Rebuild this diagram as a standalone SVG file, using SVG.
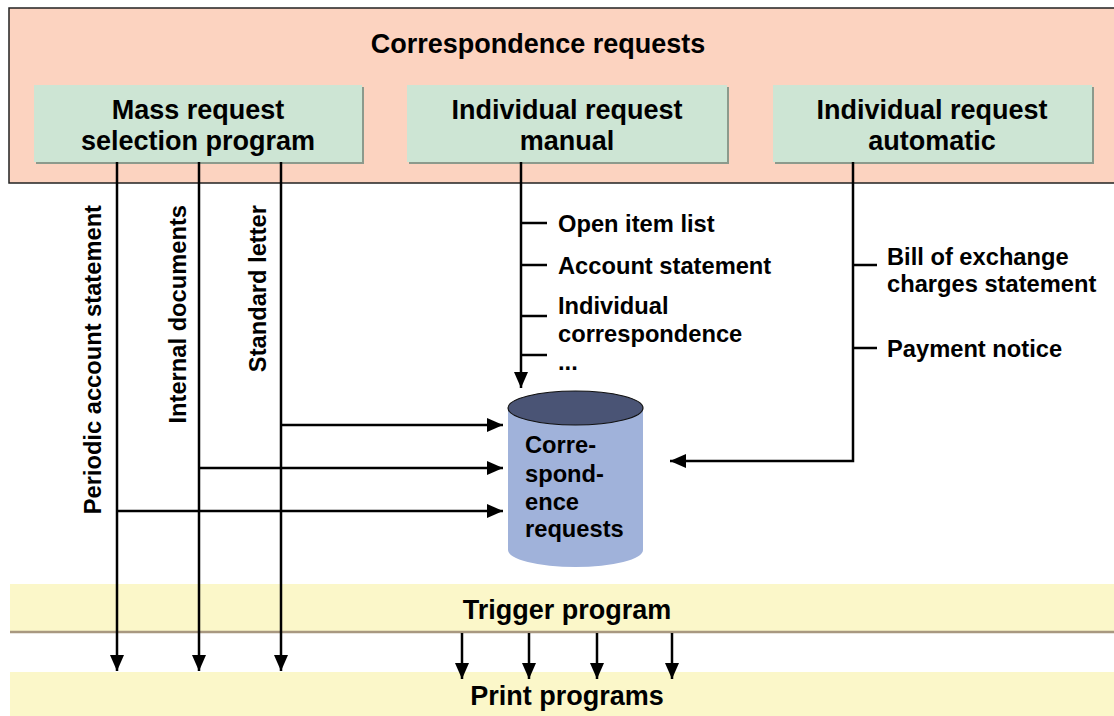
<svg xmlns="http://www.w3.org/2000/svg" width="1114" height="716" viewBox="0 0 1114 716">
<style>
text{font-family:"Liberation Sans",Arial,Helvetica,sans-serif;font-weight:bold;fill:#000}
.big{font-size:27px;text-anchor:middle}
.sm{font-size:23.7px}
.box{fill:#cde5d4}
.shadow{fill:#8c9a8c}
.band{fill:#fbf7c9}
.ln{stroke:#000;stroke-width:2.5;fill:none}
</style>
<defs>
<marker id="ah" viewBox="0 0 16 14" refX="16" refY="7" markerWidth="16" markerHeight="14" markerUnits="userSpaceOnUse" orient="auto">
<path d="M0,0 L16,7 L0,14 Z" fill="#000"/>
</marker>
</defs>

<g id="outer">
<rect x="9" y="8" width="1115" height="175" fill="#fcd3c0" stroke="#222" stroke-width="1.5"/>
<text class="big" x="538" y="53">Correspondence requests</text>
</g>

<g id="mass">
<rect class="shadow" x="36" y="87" width="328" height="77"/>
<rect class="box" x="34" y="85" width="328" height="77"/>
<text class="big" x="198" y="119">Mass request</text>
<text class="big" x="198" y="150">selection program</text>
</g>

<g id="manual">
<rect class="shadow" x="409" y="87" width="320" height="77"/>
<rect class="box" x="407" y="85" width="320" height="77"/>
<text class="big" x="567" y="119">Individual request</text>
<text class="big" x="567" y="150">manual</text>
</g>

<g id="automatic">
<rect class="shadow" x="775" y="87" width="319" height="77"/>
<rect class="box" x="773" y="85" width="319" height="77"/>
<text class="big" x="932" y="119">Individual request</text>
<text class="big" x="932" y="150">automatic</text>
</g>

<g id="trigger">
<rect class="band" x="10" y="584" width="1104" height="48"/>
<line x1="10" y1="632" x2="1114" y2="632" stroke="#a89880" stroke-width="2.5"/>
<text class="big" x="567" y="619">Trigger program</text>
</g>

<g id="print">
<rect class="band" x="10" y="672" width="1104" height="44"/>
<text class="big" x="567" y="705">Print programs</text>
</g>

<g id="db">
<path d="M508,408 L508,550 A67.5,17 0 0 0 643,550 L643,408 Z" fill="#a0b2da"/>
<ellipse cx="575.5" cy="408" rx="67.5" ry="17" fill="#4a5475" stroke="#111" stroke-width="1.2"/>
<text class="sm" x="525" y="453">Corre-</text>
<text class="sm" x="525" y="482">spond-</text>
<text class="sm" x="525" y="510">ence</text>
<text class="sm" x="525" y="537">requests</text>
</g>

<g id="connectors">
<path class="ln" d="M117,162 V671" marker-end="url(#ah)"/>
<path class="ln" d="M199,162 V671" marker-end="url(#ah)"/>
<path class="ln" d="M281,162 V671" marker-end="url(#ah)"/>
<path class="ln" d="M281,425 H503" marker-end="url(#ah)"/>
<path class="ln" d="M199,468 H503" marker-end="url(#ah)"/>
<path class="ln" d="M117,511 H503" marker-end="url(#ah)"/>
<path class="ln" d="M521,162 V388" marker-end="url(#ah)"/>
<path class="ln" d="M521,223 H547 M521,265 H547 M521,316 H547 M521,355 H547"/>
<path class="ln" d="M853,162 V461 H670" marker-end="url(#ah)"/>
<path class="ln" d="M853,265 H877 M853,348 H877"/>
<path class="ln" d="M462,633 V679" marker-end="url(#ah)"/>
<path class="ln" d="M529,633 V679" marker-end="url(#ah)"/>
<path class="ln" d="M597,633 V679" marker-end="url(#ah)"/>
<path class="ln" d="M672,633 V679" marker-end="url(#ah)"/>
</g>

<g id="labels">
<text class="sm" transform="translate(101,205) rotate(-90)" text-anchor="end">Periodic account statement</text>
<text class="sm" transform="translate(186,205) rotate(-90)" text-anchor="end">Internal documents</text>
<text class="sm" transform="translate(266,205) rotate(-90)" text-anchor="end">Standard letter</text>
<text class="sm" x="558" y="232">Open item list</text>
<text class="sm" x="558" y="274">Account statement</text>
<text class="sm" x="558" y="314">Individual</text>
<text class="sm" x="558" y="342">correspondence</text>
<text class="sm" x="558" y="370">...</text>
<text class="sm" x="887" y="265">Bill of exchange</text>
<text class="sm" x="887" y="292">charges statement</text>
<text class="sm" x="887" y="357">Payment notice</text>
</g>
</svg>
